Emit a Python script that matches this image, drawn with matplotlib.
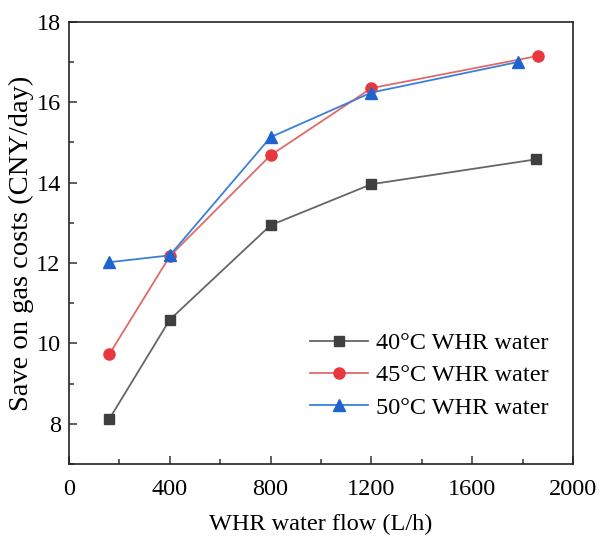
#!/usr/bin/env python3
"""Gas cost savings vs WHR water flow for three WHR water temperatures."""
import matplotlib
matplotlib.use('Agg')
import matplotlib.pyplot as plt
from matplotlib.ticker import MultipleLocator

plt.rcParams['font.family'] = ['Liberation Serif', 'DejaVu Serif']
plt.rcParams['mathtext.fontset'] = 'stix'

# data
flow_40 = [160, 400, 800, 1200, 1855]
save_40 = [8.12, 10.59, 12.94, 13.96, 14.58]

flow_45 = [160, 400, 800, 1200, 1860]
save_45 = [9.73, 12.17, 14.68, 16.35, 17.15]

flow_50 = [160, 400, 800, 1200, 1782]
save_50 = [12.02, 12.19, 15.13, 16.24, 17.0]

labels = ['40°C WHR water', '45°C WHR water', '50°C WHR water']


def main():
    fig = plt.figure(figsize=(6.0, 5.38), dpi=100)
    ax = fig.add_axes([0.115, 0.1375, 0.84, 0.822])

    ax.plot(flow_40, save_40, color='#666666', marker='s', ms=7,
            mfc='#3f3f3f', mec='#3f3f3f', lw=1.3, label=labels[0])
    ax.plot(flow_45, save_45, color='#e06a6a', marker='o', ms=8,
            mfc='#e8383d', mec='#e8383d', lw=1.3, label=labels[1])
    ax.plot(flow_50, save_50, color='#3b7fd9', marker='^', ms=8,
            mfc='#1f63cf', mec='#1f63cf', lw=1.3, label=labels[2])

    ax.set_xlim(0, 2000)
    ax.set_ylim(7, 18)
    ax.xaxis.set_major_locator(MultipleLocator(400))
    ax.xaxis.set_minor_locator(MultipleLocator(200))
    ax.yaxis.set_major_locator(MultipleLocator(2))
    ax.yaxis.set_minor_locator(MultipleLocator(1))
    ax.tick_params(which='both', direction='in', top=False, right=False,
                   labelsize=17.5, width=1.1, color='#333333')
    ax.tick_params(which='major', length=6)
    ax.tick_params(axis='x', which='major', pad=11)
    ax.tick_params(axis='y', which='major', pad=6)
    ax.tick_params(which='minor', length=3.5)
    for sp in ax.spines.values():
        sp.set_linewidth(1.2)
        sp.set_color('#222222')

    ax.set_xlabel('WHR water flow (L/h)', fontsize=17.5, labelpad=10)
    ax.set_ylabel('Save on gas costs (CNY/day)', fontsize=20.5, labelpad=2)

    ax.legend(loc='lower right', bbox_to_anchor=(0.975, 0.075),
              frameon=False, fontsize=17.5,
              handlelength=2.4, handletextpad=0.3, labelspacing=0.42,
              borderaxespad=0, borderpad=0.5)

    fig.savefig('out.png', dpi=100)


if __name__ == '__main__':
    main()
